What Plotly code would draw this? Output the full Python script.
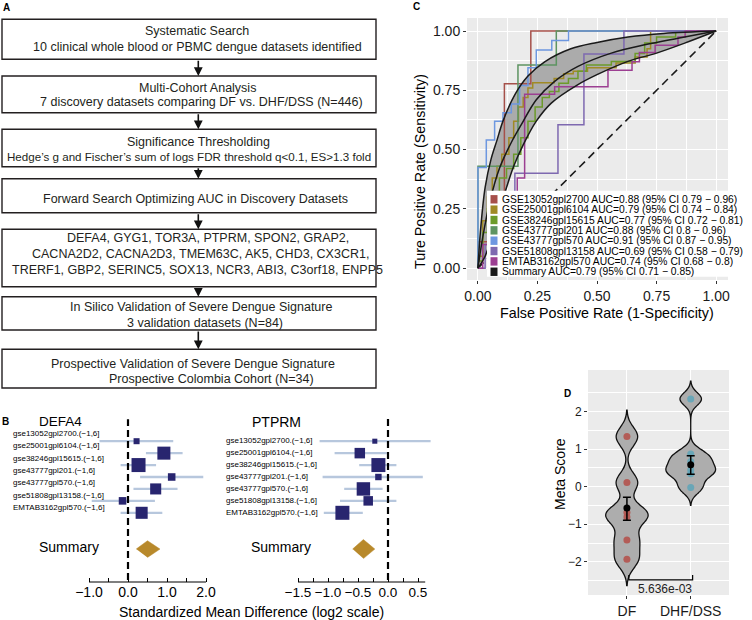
import plotly.graph_objects as go

W, H = 752, 620
def px(x): return x / W
def py(y): return 1 - y / H

FONT = "Liberation Sans, Arial, sans-serif"
TXT = "#1a1a1a"

# ---------------- Panel A : flow chart text ----------------
flow_boxes = [
    ["Systematic Search", "10 clinical whole blood or PBMC dengue datasets identified"],
    ["Multi-Cohort Analysis", "7 discovery datasets comparing DF vs. DHF/DSS (N=446)"],
    ["Significance Thresholding", "Hedge\u2019s g and Fischer\u2019s sum of logs FDR threshold q<0.1, ES>1.3 fold"],
    ["Forward Search Optimizing AUC in Discovery Datasets"],
    ["DEFA4, GYG1, TOR3A, PTPRM, SPON2, GRAP2,",
     "CACNA2D2, CACNA2D3, TMEM63C, AK5, CHD3, CX3CR1,",
     "TRERF1, GBP2, SERINC5, SOX13, NCR3, ABI3, C3orf18, ENPP5"],
    ["In Silico Validation of Severe Dengue Signature", "3 validation datasets (N=84)"],
    ["Prospective Validation of Severe Dengue Signature", "Prospective Colombia Cohort (N=34)"],
]

# ---------------- Panel B : forest plots ----------------
study_labels = ["gse13052gpl2700.(\u22121,6]", "gse25001gpl6104.(\u22121,6]", "gse38246gpl15615.(\u22121,6]",
                "gse43777gpl201.(\u22121,6]", "gse43777gpl570.(\u22121,6]", "gse51808gpl13158.(\u22121,6]",
                "EMTAB3162gpl570.(\u22121,6]"]
defa4_est = [0.22, 0.92, 0.27, 1.12, 0.71, -0.14, 0.35]
defa4_lo = [-0.73, 0.46, -0.19, 0.31, 0.14, -0.93, -0.19]
defa4_hi = [1.16, 1.40, 0.72, 1.93, 1.27, 0.69, 0.88]
defa4_weight = [0.43, 0.93, 1.0, 0.54, 0.79, 0.54, 0.86]
defa4_summary = [0.21, 0.50, 0.82]   # lower, estimate, upper
ptprm_est = [-0.22, -0.47, -0.16, -0.16, -0.41, -0.33, -0.76]
ptprm_lo = [-1.14, -0.89, -0.48, -1.09, -0.73, -0.80, -1.07]
ptprm_hi = [0.71, -0.02, 0.14, 0.58, -0.09, 0.14, -0.42]
ptprm_weight = [0.36, 0.75, 1.0, 0.46, 0.96, 0.68, 1.0]
ptprm_summary = [-0.59, -0.41, -0.22]

# ---------------- Panel C : ROC curves ----------------
roc_names = ["GSE13052gpl2700", "GSE25001gpl6104", "GSE38246gpl15615", "GSE43777gpl201",
             "GSE43777gpl570", "GSE51808gpl13158", "EMTAB3162gpl570"]
roc_auc = [0.88, 0.79, 0.77, 0.88, 0.91, 0.69, 0.74]
roc_ci_lo = [0.79, 0.74, 0.72, 0.8, 0.87, 0.58, 0.68]
roc_ci_hi = [0.96, 0.84, 0.81, 0.96, 0.95, 0.79, 0.8]
summary_auc = [0.79, 0.71, 0.85]

gse13052_fpr = [0, 0, 0.111, 0.222, 1]
gse13052_tpr = [0, 0.111, 0.778, 1.0, 1.0]
gse25001_fpr = [0, 0, 0.02, 0.04, 0.06, 0.08, 0.10, 0.13, 0.15, 0.17, 0.19, 0.21, 0.23, 0.32, 0.36, 0.40, 0.46, 0.58, 0.66, 0.71, 0.725, 1]
gse25001_tpr = [0, 0.05, 0.2, 0.3, 0.38, 0.43, 0.48, 0.55, 0.62, 0.68, 0.72, 0.76, 0.782, 0.80, 0.82, 0.83, 0.845, 0.865, 0.89, 0.925, 1.0, 1.0]
gse38246_fpr = [0, 0, 0.02, 0.04, 0.06, 0.09, 0.12, 0.15, 0.18, 0.21, 0.24, 0.27, 0.30, 0.34, 0.38, 0.42, 0.455, 0.56, 0.66, 0.70, 0.75, 0.83, 1]
gse38246_tpr = [0, 0.03, 0.15, 0.25, 0.32, 0.38, 0.42, 0.48, 0.55, 0.62, 0.68, 0.72, 0.745, 0.78, 0.80, 0.83, 0.857, 0.872, 0.905, 0.95, 0.975, 1.0, 1.0]
gse43777a_fpr = [0, 0, 0.168, 0.329, 1]
gse43777a_tpr = [0, 0.43, 0.857, 1.0, 1.0]
gse43777b_fpr = [0, 0, 0.035, 0.07, 0.105, 0.14, 0.175, 0.21, 0.245, 0.31, 0.38, 1]
gse43777b_tpr = [0, 0.425, 0.54, 0.62, 0.655, 0.692, 0.77, 0.845, 0.92, 0.96, 1.0, 1.0]
gse51808_fpr = [0, 0.03, 0.10, 0.155, 0.336, 0.445, 0.613, 1]
gse51808_tpr = [0, 0.10, 0.27, 0.40, 0.605, 0.903, 1.0, 1.0]
emtab3162_fpr = [0, 0.02, 0.06, 0.165, 0.196, 0.322, 0.546, 0.647, 0.678, 0.744, 0.84, 0.87, 1]
emtab3162_tpr = [0, 0.10, 0.25, 0.38, 0.733, 0.765, 0.835, 0.871, 0.909, 0.94, 0.975, 1.0, 1.0]

summary_fpr = [0, 0.02, 0.05, 0.09, 0.14, 0.182, 0.245, 0.322, 0.42, 0.56, 0.70, 0.84, 1.0]
summary_tpr = [0, 0.13, 0.28, 0.42, 0.53, 0.605, 0.71, 0.788, 0.851, 0.907, 0.942, 0.97, 1.0]
upper_fpr = [0, 0.01, 0.03, 0.055, 0.08, 0.105, 0.154, 0.21, 0.28, 0.39, 0.5, 0.63, 0.78, 1.0]
upper_tpr = [0, 0.15, 0.34, 0.46, 0.54, 0.62, 0.73, 0.81, 0.87, 0.925, 0.952, 0.975, 0.99, 1.0]
lower_fpr = [0, 0.03, 0.06, 0.09, 0.12, 0.15, 0.19, 0.245, 0.308, 0.42, 0.5, 0.63, 0.75, 0.868, 1.0]
lower_tpr = [0, 0.05, 0.14, 0.24, 0.34, 0.43, 0.52, 0.62, 0.696, 0.774, 0.816, 0.872, 0.907, 0.949, 1.0]

# ---------------- Panel D : meta score ----------------
groups = ["DF", "DHF/DSS"]
df_scores = [1.33, 0.11, -0.69, -0.81, -1.42, -1.93]
dhf_scores = [2.33, 0.87, 0.67, 0.44, 0.34, -0.02]
group_mean = [-0.57, 0.58]
group_lo = [-0.89, 0.33]
group_hi = [-0.28, 0.82]
p_value = "5.636e-03"

roc_colors = ["#A6504A", "#A08A25", "#6C9B2A", "#5E9462", "#6D97E0", "#7E69B0", "#9C3F92"]

fig = go.Figure()

# ===== Panel C =====
fig.add_trace(go.Scatter(x=lower_fpr, y=lower_tpr, mode="lines",
                         line=dict(color="rgba(0,0,0,0)", shape="spline", smoothing=1), xaxis="x", yaxis="y"))
fig.add_trace(go.Scatter(x=upper_fpr, y=upper_tpr, mode="lines", fill="tonexty", fillcolor="#ABABAB",
                         line=dict(color="rgba(0,0,0,0)", shape="spline", smoothing=1), xaxis="x", yaxis="y"))
fig.add_trace(go.Scatter(x=[0, 1], y=[0, 1], mode="lines",
                         line=dict(color="#1a1a1a", width=1.6, dash="8px,5px"), xaxis="x", yaxis="y"))
roc_fpr = [gse13052_fpr, gse25001_fpr, gse38246_fpr, gse43777a_fpr, gse43777b_fpr, gse51808_fpr, emtab3162_fpr]
roc_tpr = [gse13052_tpr, gse25001_tpr, gse38246_tpr, gse43777a_tpr, gse43777b_tpr, gse51808_tpr, emtab3162_tpr]
for fx, ty, col in zip(roc_fpr, roc_tpr, roc_colors):
    fig.add_trace(go.Scatter(x=fx, y=ty, mode="lines", line=dict(color=col, width=1.5, shape="hv"),
                             xaxis="x", yaxis="y"))
for fx, ty in [(upper_fpr, upper_tpr), (summary_fpr, summary_tpr), (lower_fpr, lower_tpr)]:
    fig.add_trace(go.Scatter(x=fx, y=ty, mode="lines",
                             line=dict(color="#1a1a1a", width=1.5, shape="spline", smoothing=1),
                             xaxis="x", yaxis="y"))

# ===== Panel B =====
NAVY = "#28256F"
CI = "#B7C7DD"
GOLD = "#B8892B"
SUMROW = 9.04
for est, lo, hi, wt, summ, xa, ya, hh in [
        (defa4_est, defa4_lo, defa4_hi, defa4_weight, defa4_summary, "x2", "y2", 0.70),
        (ptprm_est, ptprm_lo, ptprm_hi, ptprm_weight, ptprm_summary, "x3", "y3", 0.80)]:
    rows = list(range(len(est)))
    ci_x, ci_y = [], []
    for l, h, r in zip(lo, hi, rows):
        ci_x += [l, h, None]
        ci_y += [r, r, None]
    fig.add_trace(go.Scatter(x=ci_x, y=ci_y, mode="lines", line=dict(color=CI, width=2.3),
                             xaxis=xa, yaxis=ya))
    fig.add_trace(go.Scatter(
        x=est, y=rows, mode="markers",
        marker=dict(symbol="square", size=[14 * w for w in wt], color=NAVY, opacity=1,
                    line=dict(width=0)),
        xaxis=xa, yaxis=ya))
    fig.add_trace(go.Scatter(
        x=[summ[0], summ[1], summ[2], summ[1]],
        y=[SUMROW, SUMROW - hh, SUMROW, SUMROW + hh],
        mode="lines", fill="toself", fillcolor=GOLD, line=dict(color=GOLD, width=0.5),
        xaxis=xa, yaxis=ya))

# ===== Panel D =====
BW_DF, BW_DHF = 0.25, 0.17
for i, (vals, bw, wd) in enumerate([(df_scores, BW_DF, 0.66), (dhf_scores, BW_DHF, 0.78)]):
    fig.add_trace(go.Violin(
        x=[i] * len(vals), y=vals, bandwidth=bw, spanmode="manual",
        span=[min(vals) - 2.8 * bw, max(vals) + 2.8 * bw],
        width=wd, scalemode="width", points=False, fillcolor="#ADADAD",
        line=dict(color="#111111", width=1.3), box_visible=False, meanline_visible=False,
        xaxis="x4", yaxis="y4"))
fig.add_trace(go.Scatter(x=[0] * len(df_scores), y=df_scores, mode="markers",
                         marker=dict(size=7, color="#B4534E", opacity=0.9), xaxis="x4", yaxis="y4"))
fig.add_trace(go.Scatter(x=[1] * len(dhf_scores), y=dhf_scores, mode="markers",
                         marker=dict(size=7, color="#62A5B8", opacity=0.9), xaxis="x4", yaxis="y4"))
fig.add_trace(go.Scatter(
    x=[0, 1], y=group_mean, mode="markers", marker=dict(size=7, color="black"),
    error_y=dict(type="data", symmetric=False,
                 array=[h - m for h, m in zip(group_hi, group_mean)],
                 arrayminus=[m - l for m, l in zip(group_mean, group_lo)],
                 color="black", thickness=1.5, width=4),
    xaxis="x4", yaxis="y4"))

# ---------------- shapes / annotations ----------------
shapes = []
annotations = []

def note(text, x, y, size, xanchor="center", yanchor="middle", angle=0, color="black", **kw):
    d = dict(text=text, x=px(x), y=py(y), xref="paper", yref="paper", showarrow=False,
             xanchor=xanchor, yanchor=yanchor, textangle=angle,
             font=dict(family=FONT, size=size, color=color), borderpad=0)
    d.update(kw)
    annotations.append(d)

# Panel A boxes, texts, arrows
box_top = [19.3, 76, 129.3, 178.7, 229.3, 296.7, 349.3]
box_bot = [59.3, 112.7, 166.7, 212.7, 286.7, 330, 388]
line_y = [[30.7, 46.7], [88.3, 101.7], [141.7, 156.7], [198.5], [238.3, 254, 270], [307.3, 322.7], [364, 379.3]]
line_x = [[196.7, 197.8], [197.5, 201.7], [198.5, 188.5], [195.5], [208, 200.8, 197], [200.8, 205], [192.5, 211.7]]
line_size = [[12.5, 12.5], [12.5, 12.5], [12.5, 11.6], [12.5], [12.5, 12.5, 12.5], [12.5, 12.5], [12.5, 12.5]]
for k, lines in enumerate(flow_boxes):
    shapes.append(dict(type="rect", xref="paper", yref="paper", x0=px(2), x1=px(376),
                       y0=py(box_bot[k]), y1=py(box_top[k]), line=dict(color="#231f20", width=1.4),
                       fillcolor="white", layer="below"))
    for t, yy, xx, fs in zip(lines, line_y[k], line_x[k], line_size[k]):
        note(t, xx, yy, fs, color="#231f20")
    if k < len(flow_boxes) - 1:
        gap = box_top[k + 1] - box_bot[k]
        annotations.append(dict(text="", x=px(198.3), y=py(box_top[k + 1]), xref="paper", yref="paper",
                                showarrow=True, ax=0, ay=-gap, arrowhead=2, arrowsize=1.1,
                                arrowwidth=1.6, arrowcolor="#111111", standoff=0))

# panel labels
for lab, xx, yy in [("A", 6.3, 7.3), ("B", 5.5, 421), ("C", 416.7, 6.7), ("D", 567, 393)]:
    note("<b>%s</b>" % lab, xx, yy, 10)

# Panel C background, legend, titles
shapes.append(dict(type="rect", xref="x domain", yref="y domain", x0=0, x1=1, y0=0, y1=1,
                   fillcolor="#EBEBEB", line=dict(width=0), layer="below"))
shapes.append(dict(type="rect", xref="paper", yref="paper", x0=px(487), x1=px(752),
                   y0=py(276.7), y1=py(190.7), fillcolor="white", line=dict(width=0), layer="above"))
leg_labels = ["%s AUC=%g (95%% CI %g \u2212 %g)" % (n, a, l, h)
              for n, a, l, h in zip(roc_names, roc_auc, roc_ci_lo, roc_ci_hi)]
leg_labels.append("Summary AUC=%g (95%% CI %g \u2212 %g)" % tuple(summary_auc))
leg_cols = roc_colors + ["#1a1a1a"]
for i, (t, c) in enumerate(zip(leg_labels, leg_cols)):
    yc = 199.3 + 10.35 * i
    shapes.append(dict(type="rect", xref="paper", yref="paper", x0=px(490.5), x1=px(497.5),
                       y0=py(yc + 4.2), y1=py(yc - 4.2), fillcolor=c, line=dict(width=0), layer="above"))
    note(t, 500.8, yc, 10.3, xanchor="left")
note("False Positive Rate (1-Specificity)", 607, 313, 14.3)
note("Ture Positive Rate (Sensitivity)", 420, 171, 14.3, angle=-90)

# Panel B: axis lines, dashed null lines, labels
for xa, a0, a1, top in [("x2", -1.0, 2.0, 419.3), ("x3", -1.5, 0.62, 418)]:
    shapes.append(dict(type="line", xref=xa, yref="paper", x0=a0, x1=a1, y0=py(582), y1=py(582),
                       line=dict(color="black", width=1.2)))
    shapes.append(dict(type="line", xref=xa, yref="paper", x0=0, x1=0, y0=py(580), y1=py(top),
                       line=dict(color="black", width=2.2, dash="7px,4px")))
for i, lab in enumerate(study_labels):
    note(lab, 12.3, 433.3 + 12.4 * i, 8, xanchor="left")
    note(lab, 225, 440.7 + 11.93 * i, 8, xanchor="left")
for t, xx, yy, fs in [("DEFA4", 60.8, 421.3, 13.5), ("PTPRM", 276.7, 422, 14),
                      ("Summary", 68.5, 547, 14), ("Summary", 280.5, 546.7, 14)]:
    note(t, xx, yy, fs)
note("Standardized Mean Difference (log2 scale)", 251.5, 612, 14)

# Panel D background, bracket, labels
shapes.append(dict(type="rect", xref="x4 domain", yref="y4 domain", x0=0, x1=1, y0=0, y1=1,
                   fillcolor="#EBEBEB", line=dict(width=0), layer="below"))
shapes.append(dict(type="path", xref="x4", yref="y4",
                   path="M 0.03,-2.35 L 0.03,-2.48 L 1.03,-2.48 L 1.03,-2.35",
                   line=dict(color="black", width=1.2)))
annotations.append(dict(text=p_value, x=0.6, y=-2.73, xref="x4", yref="y4", showarrow=False,
                        xanchor="center", yanchor="middle",
                        font=dict(family=FONT, size=12, color="#222")))
note("Meta Score", 560, 474, 14, angle=-90)

grid_major = dict(showgrid=True, gridcolor="white", gridwidth=1.3)
tickstyle = dict(ticks="outside", ticklen=3, tickwidth=1, tickcolor="#333333", zeroline=False,
                 showline=False, automargin=False)

fig.update_layout(
    template="none",
    width=W, height=H, margin=dict(l=0, r=0, t=0, b=0, pad=0, autoexpand=False),
    paper_bgcolor="white", plot_bgcolor="rgba(0,0,0,0)",
    showlegend=False, hovermode=False,
    font=dict(family=FONT, color=TXT),
    shapes=shapes, annotations=annotations,
    xaxis=dict(domain=[px(467), px(728)], range=[-0.046, 1.05], anchor="y",
               tickvals=[0, 0.25, 0.5, 0.75, 1], ticktext=["0.00", "0.25", "0.50", "0.75", "1.00"],
               tickfont=dict(size=14, color="#1a1a1a"),
               minor=dict(tickvals=[0.125, 0.375, 0.625, 0.875], showgrid=True, gridcolor="white",
                          gridwidth=0.6, ticks=""),
               **grid_major, **tickstyle),
    yaxis=dict(domain=[py(280), py(18)], range=[-0.05, 1.055], anchor="x",
               tickvals=[0, 0.25, 0.5, 0.75, 1], ticktext=["0.00", "0.25", "0.50", "0.75", "1.00"],
               tickfont=dict(size=14, color="#1a1a1a"),
               minor=dict(tickvals=[0.125, 0.375, 0.625, 0.875], showgrid=True, gridcolor="white",
                          gridwidth=0.6, ticks=""),
               **grid_major, **tickstyle),
    xaxis2=dict(domain=[0, px(215)], range=[(0 - 128) / 39, (215 - 128) / 39], anchor="y2",
                tickvals=[-1, -0.5, 0, 0.5, 1, 1.5, 2], ticktext=["\u22121.0", "", "0.0", "", "1.0", "", "2.0"],
                ticks="inside", ticklen=4, tickwidth=1.2, tickcolor="black", showgrid=False,
                zeroline=False, showline=False, automargin=False, tickfont=dict(size=14, color="black")),
    yaxis2=dict(domain=[py(582), py(414)], range=[11.8, -2.28], anchor="x2", visible=False, automargin=False),
    xaxis3=dict(domain=[px(220), px(440)], range=[(220 - 388) / 60, (440 - 388) / 60], anchor="y3",
                tickvals=[-1.5, -1.25, -1.0, -0.75, -0.5, -0.25, 0, 0.25, 0.5],
                ticktext=["\u22121.5", "", "\u22121.0", "", "\u22120.5", "", "0.0", "", "0.5"],
                ticks="inside", ticklen=4, tickwidth=1.2, tickcolor="black", showgrid=False,
                zeroline=False, showline=False, automargin=False, tickfont=dict(size=13.5, color="black")),
    yaxis3=dict(domain=[py(582), py(414)], range=[11.8, -2.28], anchor="x3", visible=False, automargin=False),
    xaxis4=dict(domain=[px(588), px(729)], range=[-0.61, 1.6], anchor="y4",
                tickvals=[0, 1], ticktext=groups, tickfont=dict(size=14, color="#1a1a1a"),
                **grid_major, **tickstyle),
    yaxis4=dict(domain=[py(595), py(370)], range=[-2.88, 3.1], anchor="x4",
                tickvals=[-2, -1, 0, 1, 2], ticktext=["\u22122", "\u22121", "0", "1", "2"],
                tickfont=dict(size=12, color="#1a1a1a"),
                minor=dict(tickvals=[-2.5, -1.5, -0.5, 0.5, 1.5, 2.5], showgrid=True, gridcolor="white",
                           gridwidth=0.6, ticks=""),
                **grid_major, **tickstyle),
    violinmode="overlay",
)

fig.write_html("out.html", config={"displayModeBar": False},
               post_script="document.body.style.margin='0px';document.body.style.padding='0px';")
